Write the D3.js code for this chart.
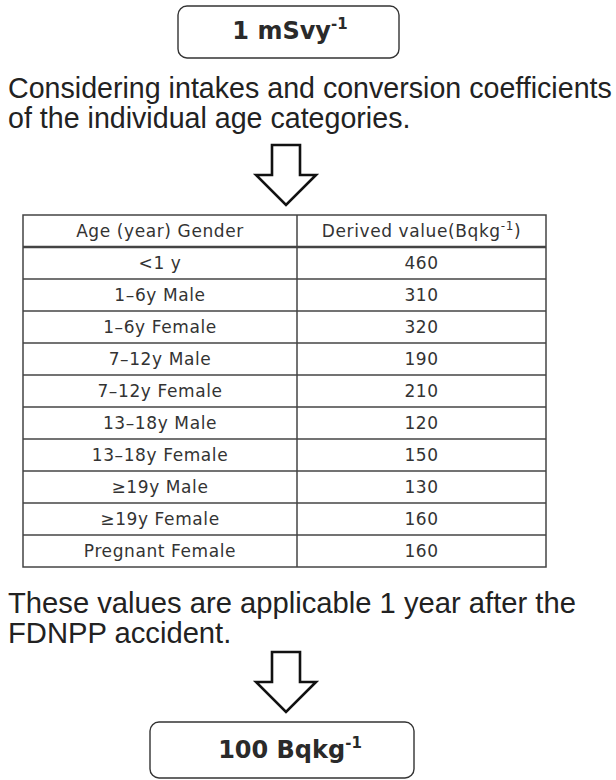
<!DOCTYPE html>
<html>
<head>
<meta charset="utf-8">
<script src="https://cdn.jsdelivr.net/npm/d3@7"></script>
<style>
  html, body { margin: 0; padding: 0; background: #fff; }
  svg { display: block; }
</style>
</head>
<body>
<svg id="chart"></svg>
<script>
// Data
const topLabel = "1 mSvy";
const bottomLabel = "100 Bqkg";
const noteTop = ["Considering intakes and conversion coefficients", "of the individual age categories."];
const noteBottom = ["These values are applicable 1 year after the", "FDNPP accident."];
const headers = ["Age (year) Gender", "Derived value(Bqkg"];
const ageGroups = ["<1 y", "1\u20136y Male", "1\u20136y Female", "7\u201312y Male", "7\u201312y Female",
  "13\u201318y Male", "13\u201318y Female", "\u226519y Male", "\u226519y Female", "Pregnant Female"];
const derivedValues = [460, 310, 320, 190, 210, 120, 150, 130, 160, 160];

// Configuration
const width = 616, height = 780;
const table = { left: 23, mid: 297, right: 546, top: 215, bottom: 567 };
const ink = "#2a2a2a";
const textFont = "'Liberation Sans', Arial, sans-serif";
const tableFont = "'DejaVu Sans', Verdana, sans-serif";

const svg = d3.select("#chart").attr("width", width).attr("height", height);

// Rounded box with bold label and superscript
function drawBox(x, y, w, h, label, tx, ty) {
  svg.append("rect")
    .attr("x", x).attr("y", y).attr("width", w).attr("height", h)
    .attr("rx", 9)
    .attr("fill", "#fff").attr("stroke", "#333").attr("stroke-width", 1.4);
  const t = svg.append("text")
    .attr("x", tx).attr("y", ty)
    .attr("text-anchor", "middle")
    .attr("font-family", tableFont).attr("font-weight", "bold")
    .attr("font-size", 24).attr("fill", ink);
  t.append("tspan").text(label);
  t.append("tspan").attr("font-size", 15).attr("dy", -10).text("-1");
}

// Hollow down arrow
function drawArrow(cx, top) {
  const p = d3.path();
  p.moveTo(cx - 14, top);
  p.lineTo(cx + 14, top);
  p.lineTo(cx + 14, top + 30);
  p.lineTo(cx + 30, top + 30);
  p.lineTo(cx, top + 60);
  p.lineTo(cx - 30, top + 30);
  p.lineTo(cx - 14, top + 30);
  p.closePath();
  svg.append("path").attr("d", p.toString())
    .attr("fill", "#fff").attr("stroke", "#111").attr("stroke-width", 2.6)
    .attr("stroke-linejoin", "miter");
}

// Paragraph text; size fitted from the first line when a width is given
function drawNote(lines, x, y0, lineH, size, targetW) {
  const texts = svg.append("g").selectAll("text").data(lines).join("text")
    .attr("x", x).attr("y", (d, i) => y0 + i * lineH)
    .attr("font-family", textFont).attr("font-size", size)
    .attr("fill", "#222").text(d => d);
  if (targetW) {
    const w = texts.node().getComputedTextLength();
    size = size * targetW / w;
    texts.attr("font-size", size);
  }
  return size;
}

drawBox(178, 6, 221, 52, topLabel, 290, 39);
drawNote(noteTop, 8, 98, 30, 26, 604);
drawArrow(286, 145);

// Table
const rows = ["header", ...ageGroups.map((d, i) => i)];
const y = d3.scaleBand().domain(rows).range([table.top, table.bottom]);
const colX = d3.scaleOrdinal().domain([0, 1])
  .range([(table.left + table.mid) / 2, (table.mid + table.right) / 2]);

const tg = svg.append("g");
tg.append("rect")
  .attr("x", table.left).attr("y", table.top)
  .attr("width", table.right - table.left).attr("height", table.bottom - table.top)
  .attr("fill", "none").attr("stroke", "#444").attr("stroke-width", 1.5);
tg.append("line")
  .attr("x1", table.mid).attr("x2", table.mid)
  .attr("y1", table.top).attr("y2", table.bottom)
  .attr("stroke", "#444").attr("stroke-width", 1.5);
tg.selectAll("line.row").data(rows.slice(1)).join("line")
  .attr("class", "row")
  .attr("x1", table.left).attr("x2", table.right)
  .attr("y1", d => y(d)).attr("y2", d => y(d))
  .attr("stroke", "#444").attr("stroke-width", (d, i) => i === 0 ? 2.4 : 1.5);

const cellText = (sel) => sel
  .attr("text-anchor", "middle")
  .attr("font-family", tableFont).attr("font-size", 17)
  .attr("letter-spacing", 0.6)
  .attr("fill", "#333");

tg.append("text").attr("x", colX(0)).attr("y", y("header") + y.bandwidth() / 2 + 6)
  .call(cellText).text(headers[0]);
const h2 = tg.append("text").attr("x", colX(1)).attr("y", y("header") + y.bandwidth() / 2 + 6)
  .call(cellText);
h2.append("tspan").text(headers[1]);
h2.append("tspan").attr("font-size", 12).attr("dy", -7).text("-1");
h2.append("tspan").attr("dy", 7).text(")");

tg.selectAll("text.age").data(ageGroups).join("text")
  .attr("class", "age")
  .attr("x", colX(0)).attr("y", (d, i) => y(i) + y.bandwidth() / 2 + 6)
  .call(cellText).text(d => d);
tg.selectAll("text.val").data(derivedValues).join("text")
  .attr("class", "val")
  .attr("x", colX(1)).attr("y", (d, i) => y(i) + y.bandwidth() / 2 + 6)
  .call(cellText).text(d => d);

drawNote(noteBottom, 8, 613, 30, 26, 568);
drawArrow(286, 652);
drawBox(150, 722, 264, 56, bottomLabel, 290, 758);
</script>
</body>
</html>
